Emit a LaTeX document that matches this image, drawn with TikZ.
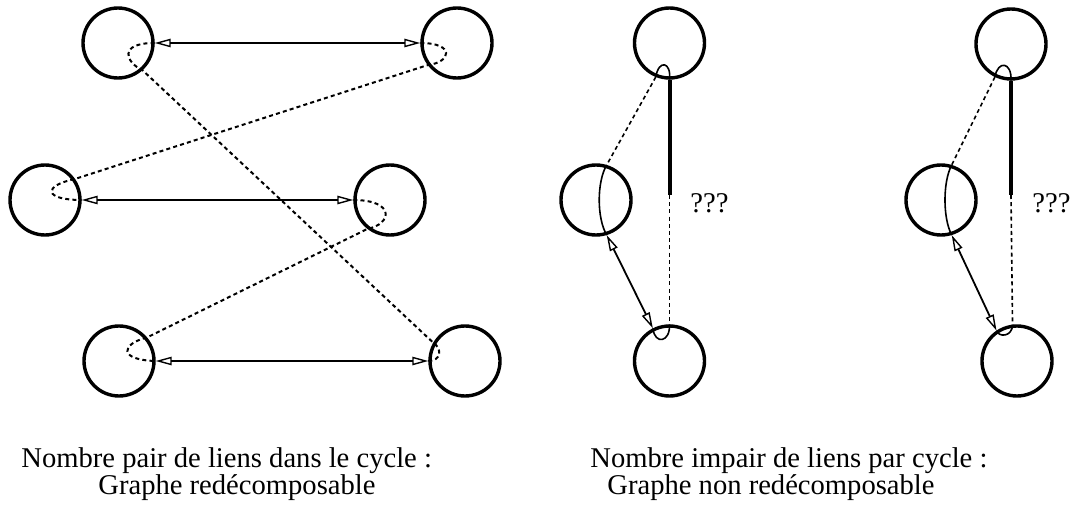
\documentclass[tikz,border=0pt]{standalone}
\usepackage{fontspec}
\setmainfont{Liberation Serif}
\usetikzlibrary{arrows.meta}

\begin{document}
\begin{tikzpicture}
[x=0.5pt,y=-0.5pt,every node/.style={inner sep=0pt},
sommet/.style={shape=circle,draw,line width=1.7pt,minimum size=35pt},
>={Triangle[open,length=8pt,width=4.2pt,line width=0.7pt]},
lien/.style={<->,line width=0.9pt},
pointille/.style={line width=1pt,dash pattern=on 2pt off 1.6pt},
fin/.style={line width=0.8pt},
texte/.style={font=\fontsize{14.3}{17}\selectfont,anchor=base west}]
\useasboundingbox[fill=white] (0,0) rectangle (1072,508);

\node[sommet] (hg) at (118,43) {};
\node[sommet] (hd) at (457,43) {};
\node[sommet] (mg) at (45,200) {};
\node[sommet] (md) at (390,200) {};
\node[sommet] (bg) at (119,361) {};
\node[sommet] (bd) at (465,361) {};
\draw[lien] (hg) -- (hd);
\draw[lien] (mg) -- (md);
\draw[lien] (bg) -- (bd);
\draw[pointille] (hd.west) .. controls +(35,0) and +(24,-3) .. (hd.217) -- (mg.35)
  .. controls +(-33,7) and +(-38,0) .. (mg.east);
\draw[pointille] (md.west) .. controls +(42,0) and +(25,-5) .. (md.232) -- (bg.40)
  .. controls +(-27,7) and +(-37,-1) .. (bg.east);
\draw[pointille] (bd.west) .. controls +(12,0) and +(10,7) .. (bd.150) -- (hg.312)
  .. controls +(-17,-8) and +(-37,0) .. (hg.east);

\node[sommet] (a1) at (669.5,43) {};
\node[sommet] (a2) at (596,200) {};
\node[sommet] (a3) at (669.5,361) {};
\coordinate (qa) at (669.5,195);
\draw[line width=2pt] (a1.south) -- (qa);
\draw[pointille,fin] (qa) -- (a3.north);
\draw[fin] (a1.south) .. controls +(2,-18) and +(3,-18) .. (a1.248);
\draw[pointille,fin] (a1.248) -- (a2.73);
\draw[fin] (a2.73) .. controls +(-10,17) and +(-10,-17) .. (a2.287);
\draw[lien] (a2.287) -- (a3.117);
\draw[fin] (a3.117) .. controls +(2,17) and +(1,18) .. (a3.north);
\node[texte] (qa txt) at (690,213) {???};

\node[sommet] (b1) at (1011,44) {};
\node[sommet] (b2) at (941,200) {};
\node[sommet] (b3) at (1017,361) {};
\coordinate (qb) at (1011,195);
\draw[line width=2pt] (b1.south) -- (qb);
\draw[pointille,fin] (qb) -- (b3.97);
\draw[fin] (b1.south) .. controls +(1,-19) and +(3,-17) .. (b1.244);
\draw[pointille,fin] (b1.244) -- (b2.73);
\draw[fin] (b2.73) .. controls +(-9,17) and +(-9,-17) .. (b2.287);
\draw[lien] (b2.287) -- (b3.124);
\draw[fin] (b3.124) .. controls +(2,7) and +(0,12.5) .. (b3.97);
\node[texte] (qb txt) at (1032,213) {???};

\node[texte] (g1) at (21,467) {Nombre pair de liens dans le cycle :};
\node[texte] (g2) at (98,494) {Graphe redécomposable};
\node[texte] (d1) at (590,467) {Nombre impair de liens par cycle :};
\node[texte] (d2) at (607,494) {Graphe non redécomposable};
\end{tikzpicture}
\end{document}
